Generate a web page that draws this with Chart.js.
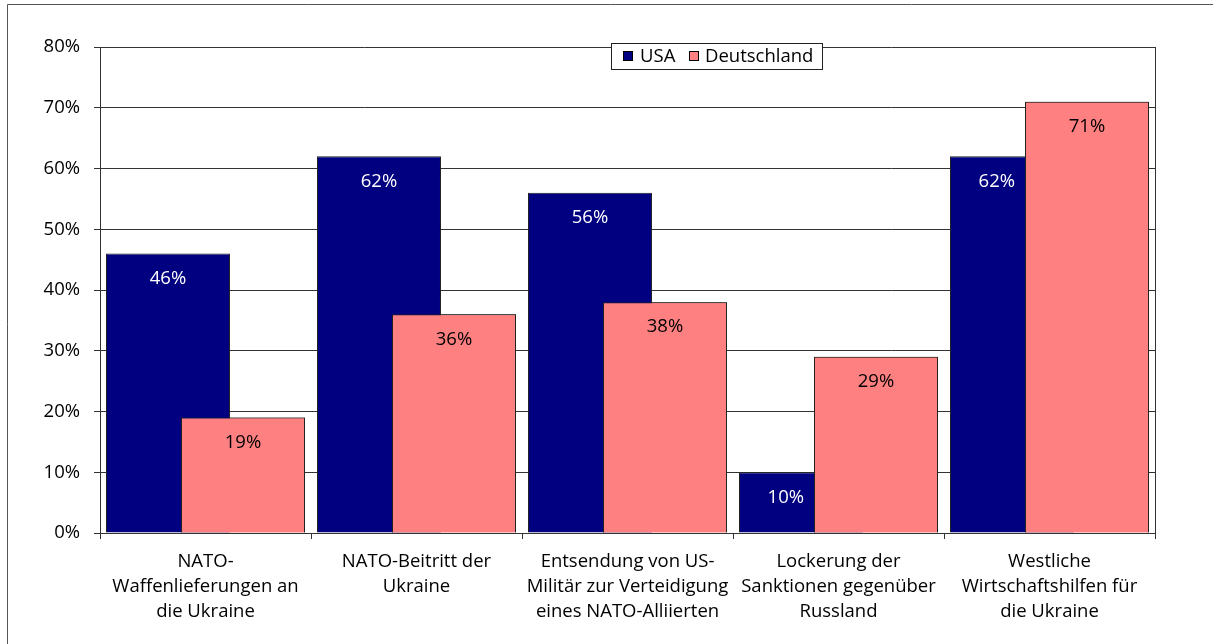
<!DOCTYPE html>
<html>
<head>
<meta charset="utf-8">
<script src="https://cdn.jsdelivr.net/npm/chart.js@4.4.0/dist/chart.umd.min.js"></script>
<style>
  html, body { margin: 0; padding: 0; background: #fff; }
  #wrap { width: 1213px; height: 644px; position: relative; }
</style>
</head>
<body>
<div id="wrap"><canvas id="myChart" width="1213" height="644"></canvas></div>
<script>
const categories = [
  ['NATO-', 'Waffenlieferungen an', 'die Ukraine'],
  ['NATO-Beitritt der', 'Ukraine'],
  ['Entsendung von US-', 'Militär zur Verteidigung', 'eines NATO-Alliierten'],
  ['Lockerung der', 'Sanktionen gegenüber', 'Russland'],
  ['Westliche', 'Wirtschaftshilfen für', 'die Ukraine']
]
const usaValues = [46, 62, 56, 10, 62]
const deValues = [19, 36, 38, 29, 71]
const seriesNames = ['USA', 'Deutschland']
const seriesColors = ['#000080', '#ff8080']
const labelColors = ['#ffffff', '#000000']

const FONT = '"Open Sans", sans-serif'
const SIZE = 18.5

// Deutschland soll ueber USA liegen -> nochmal zeichnen
const overlapPlugin = {
  id: 'overlap',
  afterDatasetsDraw( chart ) {
    const ctx = chart.ctx
    chart.getDatasetMeta( 1 ).controller.draw()
    // Werte in den Balken
    ctx.save()
    ctx.font = SIZE + 'px ' + FONT
    ctx.textAlign = 'center'
    ctx.textBaseline = 'middle'
    const deBars = chart.getDatasetMeta( 1 ).data
    chart.data.datasets.forEach( ( ds, i ) => {
      const meta = chart.getDatasetMeta( i )
      meta.data.forEach( ( bar, j ) => {
        const text = ds.data[j] + '%'
        const y = bar.y + 25
        let x = bar.x
        // USA-Wert wuerde vom roten Balken verdeckt -> nach links schieben
        if ( i === 0 ) {
          const other = deBars[j]
          const w = ctx.measureText( text ).width
          const otherLeft = other.x - other.width / 2
          if ( other.y < y + 10 && x + w / 2 > otherLeft - 10 ) {
            x = otherLeft - 10 - w / 2
          }
        }
        ctx.fillStyle = labelColors[i]
        ctx.fillText( text, x, y )
      } )
    } )
    ctx.restore()
  },
  afterDraw( chart ) {
    const ctx = chart.ctx
    const area = chart.chartArea
    ctx.save()
    // Rahmen aussen
    ctx.strokeStyle = '#555'
    ctx.lineWidth = 1
    ctx.beginPath()
    ctx.moveTo( 7.5, 644 )
    ctx.lineTo( 7.5, 4.5 )
    ctx.lineTo( 1213, 4.5 )
    ctx.stroke()
    // rechte Kante der Zeichenflaeche
    ctx.strokeStyle = '#333'
    ctx.beginPath()
    ctx.moveTo( Math.round( area.right ) + 0.5, area.top )
    ctx.lineTo( Math.round( area.right ) + 0.5, area.bottom )
    ctx.stroke()
    // Legende
    const lx = 611, ly = 43, lw = 211, lh = 26
    ctx.fillStyle = '#fff'
    ctx.fillRect( lx, ly, lw, lh )
    ctx.strokeStyle = '#222'
    ctx.strokeRect( lx + 0.5, ly + 0.5, lw, lh )
    ctx.font = SIZE + 'px ' + FONT
    ctx.textBaseline = 'middle'
    const items = [[623, 640], [689, 705]]
    items.forEach( ( it, i ) => {
      ctx.fillStyle = seriesColors[i]
      ctx.fillRect( it[0], 51, 10, 10 )
      ctx.strokeStyle = '#000'
      ctx.strokeRect( it[0] + 0.5, 51.5, 9, 9 )
      ctx.fillStyle = '#000'
      ctx.fillText( seriesNames[i], it[1], 57 )
    } )
    ctx.restore()
  }
}

const config = {
  type: 'bar',
  data: {
    labels: categories,
    datasets: [{
      label: seriesNames[0],
      data: usaValues,
      backgroundColor: seriesColors[0],
      borderColor: '#222',
      borderWidth: 1
    }, {
      label: seriesNames[1],
      data: deValues,
      backgroundColor: seriesColors[1],
      borderColor: '#222',
      borderWidth: 1
    }]
  },
  options: {
    responsive: false,
    animation: false,
    categoryPercentage: 0.711,
    barPercentage: 1.653,
    layout: { padding: { left: 0, top: 47, right: 58, bottom: 0 } },
    plugins: {
      legend: { display: false },
      tooltip: { enabled: false }
    },
    scales: {
      x: {
        offset: true,
        afterFit: ( s ) => { s.height = 111 },
        grid: {
          offset: true,
          drawOnChartArea: false,
          drawTicks: true,
          tickLength: 6,
          color: '#333'
        },
        border: { color: '#333' },
        ticks: {
          color: '#000',
          padding: 10,
          maxRotation: 0,
          autoSkip: false,
          font: { family: FONT, size: SIZE, lineHeight: 25 / SIZE }
        }
      },
      y: {
        min: 0,
        max: 80,
        afterFit: ( s ) => { s.width = 100 },
        grid: {
          color: '#333',
          tickLength: 6
        },
        border: { color: '#333' },
        ticks: {
          stepSize: 10,
          color: '#000',
          padding: 14,
          font: { family: FONT, size: SIZE },
          callback: ( v ) => v + '%'
        }
      }
    }
  },
  plugins: [overlapPlugin]
}

new Chart( document.getElementById( 'myChart' ), config )
</script>
</body>
</html>
